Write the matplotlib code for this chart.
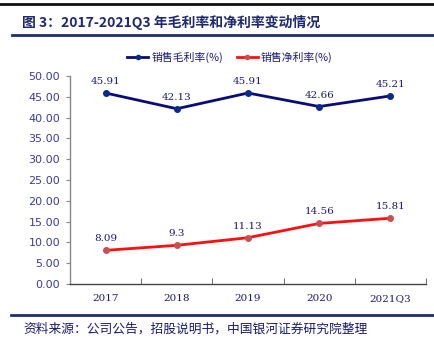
import matplotlib
matplotlib.use("Agg")
import matplotlib.pyplot as plt
from matplotlib.lines import Line2D

categories = ["2017", "2018", "2019", "2020", "2021Q3"]
gross_margin = [45.91, 42.13, 45.91, 42.66, 45.21]
net_margin = [8.09, 9.3, 11.13, 14.56, 15.81]
gross_labels = ["45.91", "42.13", "45.91", "42.66", "45.21"]
net_labels = ["8.09", "9.3", "11.13", "14.56", "15.81"]
yticks = [0, 5, 10, 15, 20, 25, 30, 35, 40, 45, 50]

title = "图 3：2017-2021Q3 年毛利率和净利率变动情况"
source = "资料来源：公司公告，招股说明书，中国银河证券研究院整理"
legend_names = ["销售毛利率(%)", "销售净利率(%)"]

CJK = ["Noto Sans CJK SC", "DejaVu Sans"]
navy = "#1a1a6e"
tickblue = "#3b3b9a"

fig = plt.figure(figsize=(4.35, 3.53), dpi=100)
W, H = 435, 353

def fx(px):
    return px / W

def fy(py):
    return 1 - py / H

ax = fig.add_axes([fx(70), fy(284), fx(426) - fx(70), fy(76) - fy(284)])
x = list(range(len(categories)))
ax.plot(x, gross_margin, color="#0a0a78", lw=2, marker="o", ms=4,
        mfc="#0a2a8a", mec="#0a2a8a", zorder=3)
ax.plot(x, net_margin, color="#ff1010", lw=2, marker="o", ms=4,
        mfc="#c85050", mec="#c85050", zorder=3)

for xi, v, t in zip(x, gross_margin, gross_labels):
    ax.annotate(t, (xi, v), xytext=(0, 5), textcoords="offset points",
                ha="center", va="bottom", fontsize=7.5, color=navy,
                family="DejaVu Serif")
for xi, v, t in zip(x, net_margin, net_labels):
    ax.annotate(t, (xi, v), xytext=(0, 5), textcoords="offset points",
                ha="center", va="bottom", fontsize=7.5, color=navy,
                family="DejaVu Serif")

ax.set_xlim(-0.5, len(categories) - 0.5)
ax.set_ylim(0, 50)
ax.set_yticks(yticks)
ax.set_yticklabels([f"{v:.2f}" for v in yticks], fontsize=8,
                   color=tickblue, family="DejaVu Sans")
ax.set_xticks(x)
ax.set_xticklabels(categories, fontsize=7.5, color=navy, family="DejaVu Serif")
ax.tick_params(axis="x", length=0, pad=7)
ax.set_xticks([i + 0.5 for i in range(-1, len(categories))], minor=True)
ax.tick_params(axis="x", which="minor", direction="in", length=4, color="#555555")
ax.tick_params(axis="y", direction="out", length=3, color="#888888", pad=4)
for s in ["top", "right"]:
    ax.spines[s].set_visible(False)
ax.spines["left"].set_color("#888888")
ax.spines["bottom"].set_color("#444444")
ax.spines["left"].set_linewidth(1)
ax.spines["bottom"].set_linewidth(1)

handles = [
    Line2D([0], [0], color="#0a0a78", lw=2, marker="o", ms=3,
           mfc="#0a2a8a", mec="#0a2a8a"),
    Line2D([0], [0], color="#ff1010", lw=2, marker="o", ms=3,
           mfc="#c85050", mec="#c85050"),
]
leg = fig.legend(handles, legend_names, loc="center",
                 bbox_to_anchor=(fx(230), fy(57)), ncol=2, frameon=False,
                 prop={"family": CJK, "size": 7.8}, handlelength=1.9,
                 columnspacing=1.3, handletextpad=0.3)
for t in leg.get_texts():
    t.set_color(navy)

# decorative rules
fig.add_artist(Line2D([0, 1], [fy(4), fy(4)], color="#111111", lw=2))
fig.add_artist(Line2D([fx(12), 1], [fy(34.5), fy(34.5)], color="#1f2f6e", lw=2))
fig.add_artist(Line2D([fx(11), 1], [fy(314.5), fy(314.5)], color="#1f2f6e", lw=2))

fig.text(fx(22), fy(22), title, fontsize=10, fontweight="bold",
         color="#1f2a6e", family=CJK, ha="left", va="center")
fig.text(fx(23), fy(329), source, fontsize=9.2, color=navy,
         family=CJK, ha="left", va="center", style="italic")

fig.savefig("out.png", dpi=100, facecolor="white")
